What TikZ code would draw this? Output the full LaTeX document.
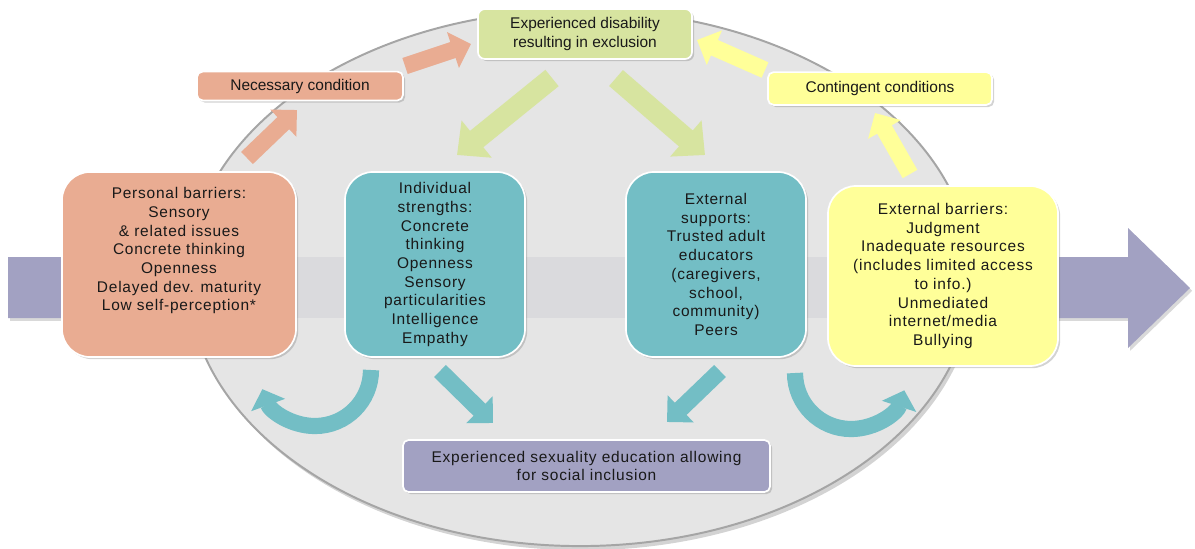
\documentclass[tikz,border=0pt]{standalone}
\usepackage{fontspec}
\setmainfont{Liberation Sans}
\usetikzlibrary{arrows.meta,shadows}
\definecolor{salmon}{RGB}{233,172,146}
\definecolor{greenbox}{RGB}{215,228,160}
\definecolor{yellowbox}{RGB}{255,255,153}
\definecolor{tealbox}{RGB}{115,190,197}
\definecolor{purplebox}{RGB}{162,161,194}
\definecolor{ellfill}{RGB}{229,229,229}
\definecolor{ellline}{RGB}{165,165,165}
\definecolor{bandgray}{RGB}{218,218,221}
\definecolor{txt}{RGB}{25,25,25}
\begin{document}
\begin{tikzpicture}[x=0.025cm,y=-0.025cm,
  box/.style={draw=white, line width=1.2pt, rounded corners=20pt, align=center, inner sep=0pt,
    font=\fontsize{11}{13.7}\selectfont, text=txt,
    drop shadow={shadow xshift=1.5pt,shadow yshift=-1.5pt,opacity=0.35}},
  smallbox/.style={box, rounded corners=4pt},
  widetext/.style={font=\fontsize{11}{13.3}\selectfont\addfontfeature{LetterSpace=5}},
  blockarrow/.style={line width=12pt, -{Triangle[length=13.5pt,width=26pt]}},
  bigblock/.style={line width=15pt, -{Triangle[length=18pt,width=33pt]}},
  curvearrow/.style={line width=11.5pt, -{Triangle[length=12pt,width=25pt]}},
]
\useasboundingbox (0,0) rectangle (1195,548);

% big background arrow
\fill[purplebox, drop shadow={shadow xshift=1.5pt,shadow yshift=-2pt,opacity=0.3}]
  (8,257) -- (1128,257) -- (1128,228) -- (1190,288) -- (1128,348) -- (1128,318) -- (8,318) -- cycle;

% ellipse
\fill[ellfill, drop shadow={shadow xshift=2pt,shadow yshift=-3pt,opacity=0.35}]
  (580,278) ellipse [x radius=9.8cm, y radius=6.7cm];
\begin{scope}
  \clip (580,278) ellipse [x radius=9.8cm, y radius=6.7cm];
  \fill[bandgray] (0,257) rectangle (1195,318);
\end{scope}
\draw[ellline, line width=1.4pt] (580,278) ellipse [x radius=9.8cm, y radius=6.7cm];

% boxes
\node[box, fill=greenbox, rounded corners=5pt, minimum width=5.35cm, minimum height=1.25cm] (excl) at (585,34)
  {Experienced disability\\resulting in exclusion};
\node[smallbox, fill=salmon, minimum width=5.15cm, minimum height=0.72cm] (nec) at (300,86)
  {Necessary condition};
\node[smallbox, fill=yellowbox, minimum width=5.6cm, minimum height=0.82cm] (cont) at (880,88.5)
  {Contingent conditions};
\node[box, widetext, fill=salmon, minimum width=5.85cm, minimum height=4.625cm] (pers) at (179,264.5)
  {Personal barriers:\\Sensory\\\& related issues\\Concrete thinking\\Openness\\Delayed dev. maturity\\Low self-perception*\\[8.5pt]~};
\node[box, widetext, fill=tealbox, minimum width=4.5cm, minimum height=4.625cm] (indiv) at (435,264.5)
  {Individual\\strengths:\\Concrete\\thinking\\Openness\\Sensory\\particularities\\Intelligence\\Empathy};
\node[box, widetext, fill=tealbox, minimum width=4.5cm, minimum height=4.625cm] (extsup) at (716,264.5)
  {External\\supports:\\Trusted adult\\educators\\(caregivers,\\school,\\community)\\Peers};
\node[box, widetext, fill=yellowbox, minimum width=5.75cm, minimum height=4.5cm] (extbar) at (943,276)
  {External barriers:\\Judgment\\Inadequate resources\\(includes limited access\\to info.)\\Unmediated\\internet/media\\Bullying};
\node[smallbox, widetext, fill=purplebox, minimum width=9.175cm, minimum height=1.3cm] (soc) at (586.5,466)
  {Experienced sexuality education allowing\\for social inclusion};

% arrow end points
\coordinate (s1a) at (247,158); \coordinate (s1b) at (297,110);
\coordinate (s2a) at (405,66);  \coordinate (s2b) at (471,44);
\coordinate (g1a) at (552,78);  \coordinate (g1b) at (457,155);
\coordinate (g2a) at (616,78);  \coordinate (g2b) at (705,155);
\coordinate (y1a) at (765,70);  \coordinate (y1b) at (697,40);
\coordinate (y2a) at (910,174); \coordinate (y2b) at (875,113);
\coordinate (t1a) at (440,371); \coordinate (t1b) at (493,423);
\coordinate (t2a) at (720,371); \coordinate (t2b) at (667,422);
\coordinate (c1a) at (371,370);
\coordinate (c2a) at (795,373);

% connectors
\draw[blockarrow, salmon] (s1a) -- (s1b);
\draw[blockarrow, salmon] (s2a) -- (s2b);
\draw[bigblock, greenbox] (g1a) -- (g1b);
\draw[bigblock, greenbox] (g2a) -- (g2b);
\draw[blockarrow, yellowbox] (y1a) -- (y1b);
\draw[blockarrow, yellowbox] (y2a) -- (y2b);
\draw[blockarrow, tealbox] (t1a) -- (t1b);
\draw[blockarrow, tealbox] (t2a) -- (t2b);
\draw[curvearrow, tealbox] (c1a) arc[start angle=0, end angle=-160, radius=1.4cm];
\draw[curvearrow, tealbox] (c2a) arc[start angle=180, end angle=342, radius=1.4cm];
\end{tikzpicture}
\end{document}
